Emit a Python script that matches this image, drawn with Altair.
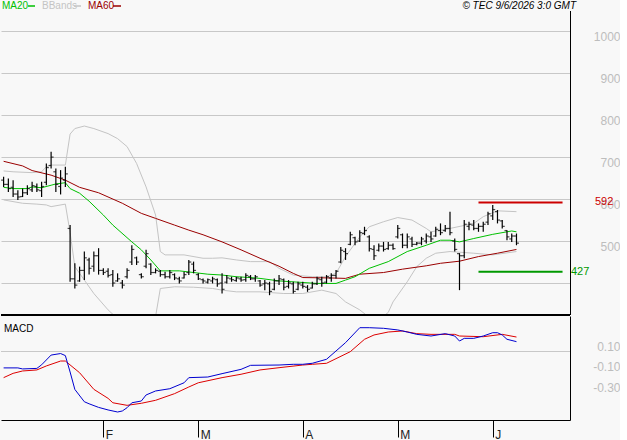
import altair as alt
import pandas as pd

# ---------------- data (bar index 0 = first session in January, 108 = last session in June) -------------
bar_open = [645, 635, 628, 612, 606, 615, 622, 630, 620, 640,
            680, 665, 630, 645, 530, 410, 405, 430, 455, 440,
            465, 430, 428, 420, 405, 400, 415, 450, 460, 420,
            440, 445, 425, 428, 420, 415, 420, 410, 412, 425,
            445, 420, 408, 402, 405, 408, 400, 402, 410, 406,
            410, 408, 415, 410, 405, 398, 398, 385, 405, 408,
            392, 398, 385, 395, 390, 388, 398, 408, 402, 412,
            418, 450, 475, 492, 508, 500, 518, 510, 480, 478,
            488, 482, 490, 510, 515, 490, 505, 492, 495, 500,
            510, 512, 525, 525, 530, 500, 470, 465, 535, 538,
            530, 535, 545, 560, 570, 548, 525, 505, 512]
bar_high = [653, 649, 645, 621, 625, 633, 641, 637, 641, 685,
            713, 673, 669, 677, 538, 447, 439, 475, 460, 475,
            483, 435, 435, 431, 423, 407, 435, 490, 463, 423,
            479, 447, 435, 431, 427, 431, 423, 415, 427, 455,
            451, 423, 411, 411, 415, 411, 423, 419, 415, 415,
            415, 423, 419, 419, 407, 407, 403, 411, 419, 411,
            407, 403, 403, 403, 395, 403, 415, 415, 419, 423,
            431, 486, 483, 522, 510, 526, 534, 514, 490, 494,
            498, 498, 494, 538, 518, 518, 510, 498, 510, 518,
            522, 534, 542, 538, 570, 506, 471, 550, 546, 550,
            542, 546, 570, 586, 574, 550, 526, 518, 518]
bar_low = [629, 617, 605, 598, 605, 610, 617, 617, 605, 633,
           673, 617, 611, 629, 403, 387, 403, 407, 420, 427,
           420, 419, 413, 391, 403, 387, 411, 443, 443, 411,
           435, 419, 423, 415, 411, 411, 407, 399, 411, 419,
           423, 407, 399, 399, 399, 391, 375, 399, 403, 403,
           403, 403, 407, 403, 391, 383, 371, 383, 395, 383,
           387, 375, 383, 387, 379, 387, 395, 391, 399, 403,
           411, 447, 455, 490, 490, 498, 514, 475, 455, 475,
           475, 479, 479, 506, 483, 483, 486, 490, 490, 494,
           498, 510, 514, 522, 514, 475, 383, 459, 526, 526,
           522, 522, 538, 550, 542, 530, 502, 498, 490]
bar_close = [635, 625, 612, 605, 615, 625, 632, 622, 630, 675,
             700, 635, 650, 660, 410, 395, 430, 460, 435, 465,
             430, 425, 418, 400, 410, 395, 430, 480, 450, 415,
             470, 425, 430, 420, 415, 425, 412, 405, 420, 450,
             430, 410, 405, 408, 410, 398, 385, 412, 408, 412,
             407, 418, 410, 415, 395, 400, 380, 405, 410, 390,
             400, 380, 398, 392, 385, 398, 410, 400, 415, 418,
             428, 478, 470, 515, 498, 520, 525, 482, 465, 488,
             480, 490, 482, 530, 490, 510, 492, 495, 505, 512,
             505, 528, 520, 530, 520, 480, 465, 540, 540, 530,
             535, 540, 565, 575, 550, 535, 510, 512, 495]

ma20_idx = [0, 2, 5, 6, 8, 10, 11, 13, 14, 16, 18, 21, 23, 27, 29, 31, 33, 37, 40, 43,
            46, 49, 52, 54, 58, 62, 66, 70, 72, 74, 77, 81, 85, 89, 92, 94, 96, 99, 103, 107, 108]
ma20_val = [628, 625, 625, 629, 627, 633, 636, 639, 625, 614, 595, 562, 538, 498, 479, 455, 429, 429, 425, 421,
            419, 415, 413, 411, 405, 402, 399, 399, 407, 415, 435, 451, 475, 490, 502, 502, 498, 506, 516, 524, 522]

ma60_idx = [0, 4, 6, 10, 13, 16, 20, 25, 29, 32, 36, 39, 42, 46, 50, 54, 58, 61, 63, 69,
            72, 75, 80, 84, 89, 92, 96, 100, 104, 108]
ma60_val = [690, 679, 668, 657, 645, 628, 615, 590, 566, 554, 538, 526, 515, 498, 479, 459, 440, 423, 413, 412,
            411, 421, 425, 433, 441, 447, 452, 463, 471, 480]

bbu_idx = [0, 2, 6, 8, 9, 10, 13, 14, 15, 17, 19, 22, 24, 26, 28, 30, 32, 33, 34, 38,
           42, 44, 46, 49, 52, 56, 58, 61, 65, 68, 70, 72, 75, 77, 80, 83, 86, 89, 90, 94,
           99, 101, 104, 108]
bbu_val = [667, 665, 663, 665, 677, 681, 681, 755, 768, 774, 768, 756, 744, 725, 685, 629, 562, 475, 467, 467,
           459, 459, 460, 455, 451, 451, 435, 419, 415, 415, 423, 463, 510, 534, 546, 556, 550, 530, 522, 530,
           542, 558, 572, 570]

bbl_idx = [0, 4, 7, 9, 10, 13, 14, 15, 17, 19, 22, 24, 27, 30, 32, 33, 36, 40, 44, 46,
           49, 54, 59, 63, 67, 70, 72, 75, 77, 79, 81, 82, 83, 85, 87, 89, 91, 94, 99, 103, 108]
bbl_val = [598, 590, 588, 586, 582, 588, 520, 439, 407, 375, 336, 315, 300, 310, 320, 387, 391, 390, 387, 383,
           379, 379, 375, 375, 383, 375, 355, 336, 318, 312, 330, 355, 371, 403, 439, 459, 471, 475, 471, 467, 475]

macd_idx = [0, 3, 4, 7, 8, 10, 12, 13, 14, 15, 17, 18, 20, 22, 24, 25, 26, 27, 29, 30,
            32, 35, 38, 39, 43, 46, 50, 52, 58, 61, 63, 65, 68, 70, 72, 75, 77, 80, 83, 85,
            87, 90, 93, 95, 96, 97, 99, 101, 103, 104, 105, 106, 108]
macd_val = [-0.16, -0.16, -0.17, -0.165, -0.13, -0.035, -0.02, -0.04, -0.20, -0.37,
            -0.49, -0.51, -0.545, -0.57, -0.59, -0.58, -0.548, -0.50, -0.483, -0.424,
            -0.385, -0.363, -0.305, -0.255, -0.249, -0.216, -0.174, -0.135, -0.132, -0.125,
            -0.125, -0.115, -0.076, 0.005, 0.086, 0.232, 0.232, 0.226, 0.210, 0.190,
            0.167, 0.151, 0.174, 0.151, 0.102, 0.128, 0.128, 0.151, 0.183, 0.183,
            0.161, 0.119, 0.096]

sig_idx = [0, 2, 4, 7, 9, 12, 13, 16, 19, 22, 23, 26, 29, 32, 36, 39, 41, 46, 50, 54,
           58, 63, 65, 68, 70, 73, 76, 78, 81, 84, 87, 90, 95, 96, 101, 105, 108]
sig_val = [-0.255, -0.213, -0.19, -0.18, -0.141, -0.093, -0.093, -0.207, -0.369, -0.457,
           -0.50, -0.525, -0.505, -0.476, -0.411, -0.346, -0.305, -0.255, -0.222, -0.18,
           -0.158, -0.132, -0.125, -0.115, -0.07, -0.002, 0.119, 0.161, 0.19, 0.20,
           0.174, 0.167, 0.167, 0.151, 0.144, 0.167, 0.141]

month_pos = [21, 41, 63, 83, 103]
month_lab = ["F", "M", "A", "M", "J"]
price_ticks = [400, 500, 600, 700, 800, 900, 1000]
macd_ticks = [0.1, -0.1, -0.3]
macd_tick_labels = ["0.10", "-0.10", "-0.30"]
zero_line = [0]
level_vals = [592, 427]
level_from = [100, 100]
level_to = [117.7, 117.7]
level_cols = ["#cc0000", "#009900"]

# ---------------- styles ----------------
FONT = "Liberation Sans"
BG = "#f8f8f8"
GRID = "#c8c8c8"
LABEL = "#bdbdbd"
W, H_PRICE, H_MACD = 569, 315, 104
X_DOMAIN = [-0.55, 119.27]
P_DOMAIN = [323.8, 1074.3]
M_DOMAIN = [-0.668, 0.346]

xs = alt.Scale(domain=X_DOMAIN, nice=False, zero=False)
ps = alt.Scale(domain=P_DOMAIN, nice=False, zero=False)
ms = alt.Scale(domain=M_DOMAIN, nice=False, zero=False)


def ldf(a, b):
    return pd.DataFrame({"i": a, "v": b})


one = pd.DataFrame({"a": [0]})

bars = pd.DataFrame({"i": list(range(len(bar_high))), "o": bar_open,
                     "h": bar_high, "l": bar_low, "c": bar_close})

price_axis = alt.Axis(orient="right", values=price_ticks, format="d",
                      labelExpr="datum.value < 450 ? '' : datum.label",
                      grid=True, gridColor=GRID, gridWidth=1, ticks=False, tickSize=0,
                      domain=False, labelPadding=50, labelAlign="right", labelBaseline="top",
                      labelColor=LABEL, labelFont=FONT, labelFontSize=12, title=None)

mexpr = "''"
for v, l in reversed(list(zip(macd_ticks, macd_tick_labels))):
    mexpr = f"abs(datum.value - ({v})) < 0.001 ? '{l}' : ({mexpr})"
macd_axis = alt.Axis(orient="right", values=macd_ticks, labelExpr=mexpr, grid=False,
                     ticks=False, tickSize=0, domain=True, domainColor="black",
                     labelPadding=50, labelAlign="right", labelBaseline="top",
                     labelColor=LABEL, labelFont=FONT, labelFontSize=12, title=None)

texpr = "''"
for p, l in reversed(list(zip(month_pos, month_lab))):
    texpr = f"datum.value == {p} ? '{l}' : ({texpr})"
x_axis = alt.Axis(values=month_pos, labelExpr=texpr, grid=False, tickSize=17,
                  tickColor="black", domainColor="black", labelAlign="left",
                  labelBaseline="alphabetic", labelPadding=1, labelOffset=2,
                  labelColor="#222222", labelFont=FONT, labelFontSize=12,
                  labelFlush=False, title=None)

XP = alt.X("i:Q", scale=xs, axis=None)


def PY(field):
    return alt.Y(field, scale=ps, axis=price_axis)


def pline(a, b, color, clip=False):
    return alt.Chart(ldf(a, b)).mark_line(color=color, strokeWidth=1, clip=clip).encode(
        x=XP, y=PY("v:Q"))


bb_up = pline(bbu_idx, bbu_val, "#c4c4c4", clip=True)
bb_lo = pline(bbl_idx, bbl_val, "#c4c4c4", clip=True)
ma60 = pline(ma60_idx, ma60_val, "#9a0000")
ma20 = pline(ma20_idx, ma20_val, "#00c000")

hl = alt.Chart(bars).mark_rule(color="black", strokeWidth=1.2).encode(
    x=XP, y=PY("l:Q"), y2="h:Q")
op = alt.Chart(bars).mark_tick(color="black", orient="horizontal", size=2.5,
                               thickness=1.2, xOffset=-1.25).encode(x=XP, y=PY("o:Q"))
cl = alt.Chart(bars).mark_tick(color="black", orient="horizontal", size=2.5,
                               thickness=1.2, xOffset=1.25).encode(x=XP, y=PY("c:Q"))

lev = pd.DataFrame({"v": level_vals, "x1": level_from, "x2": level_to, "col": level_cols})
lev_rules = alt.Chart(lev).mark_rule(strokeWidth=2).encode(
    x=alt.X("x1:Q", scale=xs, axis=None), x2="x2:Q",
    y=PY("v:Q"), color=alt.Color("col:N", scale=None))
lev_t1 = alt.Chart(pd.DataFrame({"v": [level_vals[0]], "t": ["592"]})).mark_text(
    align="left", baseline="middle", font=FONT, fontSize=11, color="#cc0000").encode(
    x=alt.value(594), y=PY("v:Q"), text="t:N")
lev_t2 = alt.Chart(pd.DataFrame({"v": [level_vals[1]], "t": ["427"]})).mark_text(
    align="left", baseline="middle", font=FONT, fontSize=11, color="#009900").encode(
    x=alt.value(570), y=PY("v:Q"), text="t:N")


def htext(t, x, color, align="left", style="normal"):
    return alt.Chart(pd.DataFrame({"t": [t]})).mark_text(
        align=align, baseline="middle", font=FONT, fontSize=10, color=color,
        fontStyle=style).encode(x=alt.value(x), y=alt.value(6), text="t:N")


def hline(x1, x2, color):
    return alt.Chart(one).mark_rule(color=color, strokeWidth=1.5).encode(
        x=alt.value(x1), x2=alt.value(x2), y=alt.value(6))


header = [htext("MA20", 1, "#00c000"), hline(27, 34, "#00c000"),
          htext("BBands", 41, "#c4c4c4"), hline(73, 80, "#c4c4c4"),
          htext("MA60", 87, "#9a0000"), hline(112, 120, "#9a0000"),
          htext("\u00a9 TEC 9/6/2026 3:0 GMT", 575, "black", align="right", style="italic")]

right_border = alt.Chart(one).mark_rule(color="black", strokeWidth=1).encode(
    x=alt.value(569.5), y=alt.value(11), y2=alt.value(H_PRICE))
sep = alt.Chart(one).mark_rule(color="black", strokeWidth=2).encode(
    x=alt.value(0), x2=alt.value(W), y=alt.value(H_PRICE))

top = alt.layer(bb_up, bb_lo, ma60, ma20, hl, op, cl, lev_rules, lev_t1, lev_t2,
                *header, right_border, sep).properties(width=W, height=H_PRICE)

# ---------------- MACD panel ----------------
XM = alt.X("i:Q", scale=xs, axis=x_axis)
zero = alt.Chart(pd.DataFrame({"z": zero_line})).mark_rule(color=GRID, strokeWidth=1).encode(
    y=alt.Y("z:Q", scale=ms, axis=macd_axis))
macd_line = alt.Chart(ldf(macd_idx, macd_val)).mark_line(color="#0000d0", strokeWidth=1).encode(
    x=XM, y=alt.Y("v:Q", scale=ms, axis=macd_axis))
sig_line = alt.Chart(ldf(sig_idx, sig_val)).mark_line(color="#dd0000", strokeWidth=1).encode(
    x=XM, y=alt.Y("v:Q", scale=ms, axis=macd_axis))
macd_t = alt.Chart(pd.DataFrame({"t": ["MACD"]})).mark_text(
    align="left", baseline="middle", font=FONT, fontSize=10, color="black").encode(
    x=alt.value(3), y=alt.value(13), text="t:N")

bottom = alt.layer(zero, sig_line, macd_line, macd_t).properties(width=W, height=H_MACD)

chart = alt.vconcat(top, bottom, spacing=0).properties(
    background=BG, padding=0).configure_view(stroke=None)

chart.save("out.html", embed_options={"renderer": "svg", "actions": False})
